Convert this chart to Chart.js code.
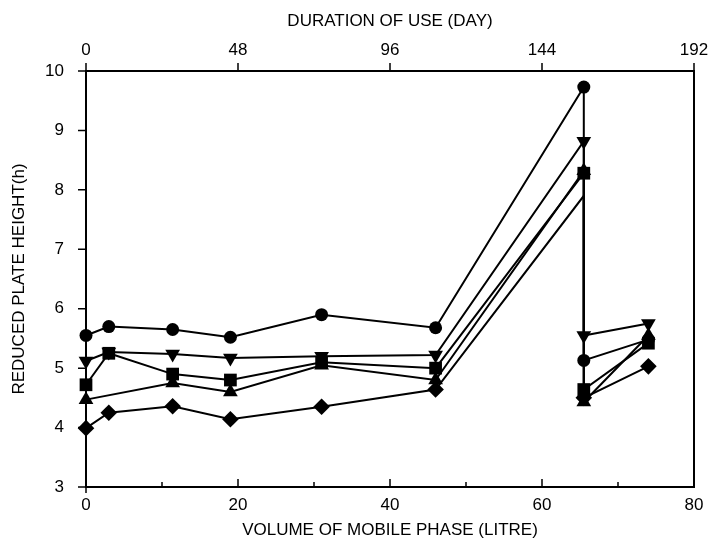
<!DOCTYPE html>
<html><head><meta charset="utf-8">
<script src="https://cdn.jsdelivr.net/npm/chart.js@4/dist/chart.umd.min.js"></script>
<style>html,body{margin:0;padding:0;background:#fff}#wrap{width:709px;height:543px}</style>
</head><body><div id="wrap"><canvas id="c" width="709" height="543"></canvas></div>
<script>
// Data
const volumeLitre = [0, 3, 11.4, 19, 31, 46, 65.5, 65.5, 74];
const circleSeries   = [5.55, 5.70, 5.65, 5.52, 5.90, 5.68, 9.73, 5.13, 5.48];
const invTriSeries   = [5.12, 5.27, 5.24, 5.17, 5.20, 5.22, 8.82, 5.55, 5.75];
const squareSeries   = [4.72, 5.25, 4.90, 4.80, 5.10, 5.00, 8.28, 4.64, 5.42];
const triangleSeries = [4.47, null, 4.75, 4.60, 5.05, 4.80, 8.32, 4.43, 5.55];
const diamondSeries  = [3.99, 4.25, 4.36, 4.14, 4.35, 4.64, 7.90, 4.50, 5.03];
const volumeTicks = [0, 20, 40, 60, 80];
const volumeMinorTicks = [10, 30, 50, 70];
const dayTicks = [0, 48, 96, 144, 192];
const plateTicks = [3, 4, 5, 6, 7, 8, 9, 10];

const FONT = "'Liberation Sans', Arial, Helvetica, sans-serif";
const pts = ys => volumeLitre.map((x, i) => ({x: x, y: ys[i]}));

function ds(ys, style, radius, rotation) {
  return {
    data: pts(ys), borderColor: '#000', backgroundColor: '#000',
    pointBackgroundColor: '#000', pointBorderColor: '#000', pointBorderWidth: 0,
    borderWidth: 2, pointStyle: style, pointRadius: radius, pointRotation: rotation || 0,
    tension: 0, spanGaps: true, clip: false
  };
}

const frame = {
  id: 'frame',
  afterDraw(chart) {
    const {ctx, chartArea: a, scales} = chart;
    ctx.save();
    ctx.strokeStyle = '#000';
    ctx.lineWidth = 2;
    ctx.strokeRect(a.left, a.top, a.right - a.left, a.bottom - a.top);
    ctx.lineWidth = 1.5;
    ctx.beginPath();
    volumeTicks.forEach(v => { const x = scales.x.getPixelForValue(v); ctx.moveTo(x, a.bottom + (v === 0 ? 6 : 0)); ctx.lineTo(x, a.bottom - 8); });
    volumeMinorTicks.forEach(v => { const x = scales.x.getPixelForValue(v); ctx.moveTo(x, a.bottom); ctx.lineTo(x, a.bottom - 5); });
    plateTicks.forEach(v => { const y = scales.y.getPixelForValue(v); ctx.moveTo(a.left, y); ctx.lineTo(a.left - 8, y); });
    dayTicks.forEach(v => { const x = scales.x2.getPixelForValue(v); ctx.moveTo(x, a.top); ctx.lineTo(x, a.top - 8); });
    ctx.stroke();
    ctx.restore();
  }
};

const noSidePad = s => { s.paddingLeft = 0; s.paddingRight = 0; };

new Chart(document.getElementById('c'), {
  type: 'line',
  data: {
    datasets: [
      ds(diamondSeries, 'rectRot', [8.3, 8.3, 8.3, 8.3, 8.3, 8.3, 0, 8.3, 8.3]),
      ds(triangleSeries, 'triangle', 8.5),
      ds(squareSeries, 'rect', 9),
      ds(invTriSeries, 'triangle', 8.5, 180),
      ds(circleSeries, 'circle', 6.5)
    ]
  },
  options: {
    responsive: false, animation: false,
    layout: {padding: {left: 0, right: 15, top: 0, bottom: 0}},
    plugins: {legend: {display: false}, tooltip: {enabled: false}},
    scales: {
      x: {
        type: 'linear', position: 'bottom', min: 0, max: 80,
        afterBuildTicks: s => { s.ticks = volumeTicks.map(v => ({value: v})); },
        afterFit: s => { s.height = 56; noSidePad(s); },
        grid: {display: false, drawTicks: false}, border: {display: false},
        ticks: {color: '#000', padding: 8, font: {family: FONT, size: 17}, maxRotation: 0},
        title: {display: true, text: 'VOLUME OF MOBILE PHASE (LITRE)', color: '#000',
                font: {family: FONT, size: 17}, padding: {top: 0, bottom: 2}}
      },
      x2: {
        type: 'linear', axis: 'x', position: 'top', min: 0, max: 192,
        afterBuildTicks: s => { s.ticks = dayTicks.map(v => ({value: v})); },
        afterFit: s => { s.height = 71; noSidePad(s); },
        grid: {display: false, drawTicks: false}, border: {display: false},
        ticks: {color: '#000', padding: 10, font: {family: FONT, size: 17}, maxRotation: 0},
        title: {display: true, text: 'DURATION OF USE (DAY)', color: '#000',
                font: {family: FONT, size: 17}, padding: {top: 11, bottom: 0}}
      },
      y: {
        type: 'linear', position: 'left', min: 3, max: 10,
        afterBuildTicks: s => { s.ticks = plateTicks.map(v => ({value: v})); },
        afterFit: s => { s.width = 86; },
        grid: {display: false, drawTicks: false}, border: {display: false},
        ticks: {color: '#000', padding: 22, font: {family: FONT, size: 17}},
        title: {display: true, text: 'REDUCED PLATE HEIGHT(h)', color: '#000',
                font: {family: FONT, size: 17}, padding: {top: 9, bottom: 0}}
      }
    }
  },
  plugins: [frame]
});
</script>
</body></html>
